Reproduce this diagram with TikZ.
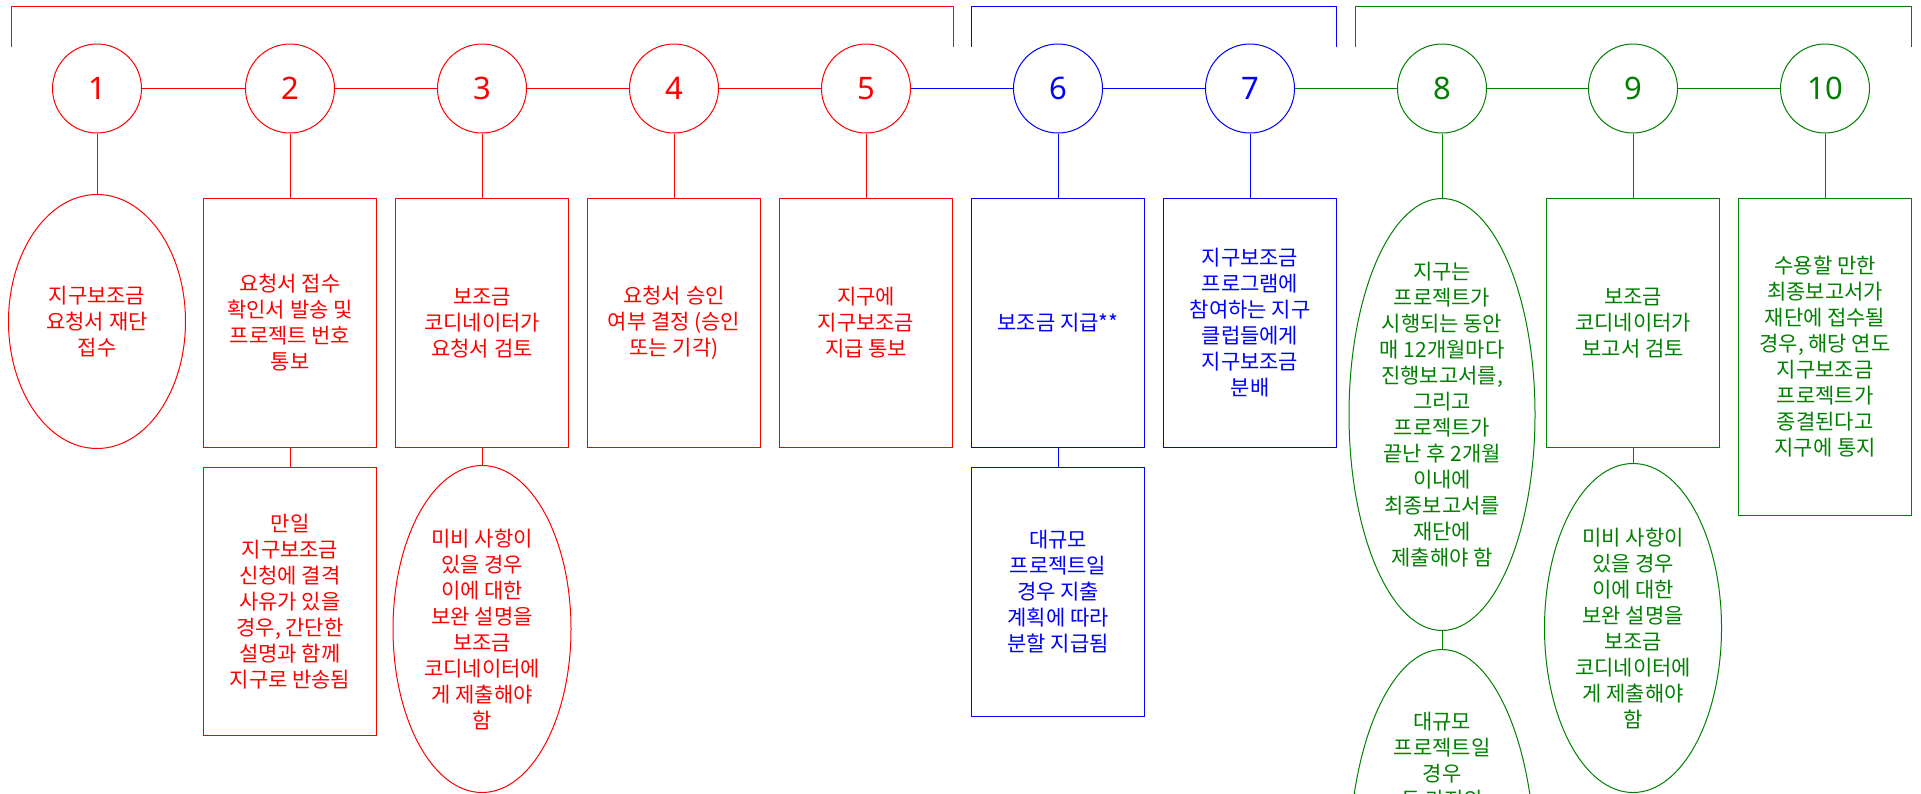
\documentclass[tikz,border=0pt]{standalone}
\usepackage{fontspec}
\setmainfont{Noto Sans CJK KR}
\newfontfamily\numfont{Noto Sans}
\usepackage{tikz}
\usetikzlibrary{shapes.geometric, positioning}

\definecolor{grantred}{RGB}{255,0,0}
\definecolor{grantblue}{RGB}{0,0,255}
\definecolor{grantgreen}{RGB}{0,128,0}

\begin{document}
\begin{tikzpicture}[x=0.5pt, y=-0.5pt, line width=0.5pt]
			\tikzstyle{stagenum}=[draw, circle, minimum size=44.5pt, inner sep=0pt, font=\numfont\fontsize{15.5}{18}\selectfont]
			\tikzstyle{taskbox}=[draw, rectangle, minimum width=86.5pt, minimum height=124.5pt, inner sep=0pt, align=center, font=\fontsize{10.5}{13}\selectfont, below]
			\tikzstyle{taskoval}=[draw, ellipse, inner sep=-4pt, align=center, font=\fontsize{10.5}{13}\selectfont, below]
			
			\useasboundingbox (0,0) rectangle (1921,793);
			\clip (0,0) rectangle (1921,793);
			
			%% phase brackets
			\draw [grantred] (11,47) |- (953,6) -- (953,47);
			\draw [grantblue] (971,47) |- (1336,6) -- (1336,47);
			\draw [grantgreen] (1355,47) |- (1911,6) -- (1911,47);
			
			\node (s1) at (97,88.5) [stagenum, grantred] {1};
			\node (s2) at (290,88.5) [stagenum, grantred] {2};
			\node (s3) at (482,88.5) [stagenum, grantred] {3};
			\node (s4) at (674,88.5) [stagenum, grantred] {4};
			\node (s5) at (866,88.5) [stagenum, grantred] {5};
			\node (s6) at (1058,88.5) [stagenum, grantblue] {6};
			\node (s7) at (1250,88.5) [stagenum, grantblue] {7};
			\node (s8) at (1442,88.5) [stagenum, grantgreen] {8};
			\node (s9) at (1633,88.5) [stagenum, grantgreen] {9};
			\node (s10) at (1825,88.5) [stagenum, grantgreen] {10};
			
			\draw [grantred] (s1) -- (s2);
			\draw [grantred] (s2) -- (s3);
			\draw [grantred] (s3) -- (s4);
			\draw [grantred] (s4) -- (s5);
			\draw [grantblue] (s5) -- (s6);
			\draw [grantblue] (s6) -- (s7);
			\draw [grantgreen] (s7) -- (s8);
			\draw [grantgreen] (s8) -- (s9);
			\draw [grantgreen] (s9) -- (s10);
			
			%% first row
			\node (a1) at (97,194) [taskoval, grantred, minimum width=88.5pt, minimum height=127pt] {지구보조금\\요청서 재단\\접수};
			\node (a2) at (290,198) [taskbox, grantred] {요청서 접수\\확인서 발송 및\\프로젝트 번호\\통보};
			\node (a3) at (482,198) [taskbox, grantred] {보조금\\코디네이터가\\요청서 검토};
			\node (a4) at (674,198) [taskbox, grantred] {요청서 승인\\여부 결정 (승인\\또는 기각)};
			\node (a5) at (866,198) [taskbox, grantred] {지구에\\지구보조금\\지급 통보};
			\node (a6) at (1058,198) [taskbox, grantblue] {보조금 지급**};
			\node (a7) at (1250,198) [taskbox, grantblue] {지구보조금\\프로그램에\\참여하는 지구\\클럽들에게\\지구보조금\\분배};
			\node (a8) at (1442,198) [taskoval, grantgreen, minimum width=93pt, minimum height=216pt] {지구는\\프로젝트가\\시행되는 동안\\매 12개월마다\\진행보고서를,\\그리고\\프로젝트가\\끝난 후 2개월\\이내에\\최종보고서를\\재단에\\제출해야 함};
			\node (a9) at (1633,198) [taskbox, grantgreen] {보조금\\코디네이터가\\보고서 검토};
			\node (a10) at (1825,198) [taskbox, grantgreen, minimum height=158.5pt] {수용할 만한\\최종보고서가\\재단에 접수될\\경우, 해당 연도\\지구보조금\\프로젝트가\\종결된다고\\지구에 통지};
			
			\draw [grantred] (s1) -- (a1);
			\draw [grantred] (s2) -- (a2);
			\draw [grantred] (s3) -- (a3);
			\draw [grantred] (s4) -- (a4);
			\draw [grantred] (s5) -- (a5);
			\draw [grantblue] (s6) -- (a6);
			\draw [grantblue] (s7) -- (a7);
			\draw [grantgreen] (s8) -- (a8);
			\draw [grantgreen] (s9) -- (a9);
			\draw [grantgreen] (s10) -- (a10);
			
			%% second row
			\node (b2) at (290,467) [taskbox, grantred, minimum height=134pt] {만일\\지구보조금\\신청에 결격\\사유가 있을\\경우, 간단한\\설명과 함께\\지구로 반송됨};
			\node (b3) at (482,465) [taskoval, grantred, minimum width=89pt, minimum height=163.5pt] {미비 사항이\\있을 경우\\이에 대한\\보완 설명을\\보조금\\코디네이터에\\게 제출해야\\함};
			\node (b6) at (1058,467) [taskbox, grantblue] {대규모\\프로젝트일\\경우 지출\\계획에 따라\\분할 지급됨};
			\node (b8) at (1442,649) [taskoval, grantgreen, minimum width=93pt, minimum height=216pt] {};
			\node (b8t) at (1442,712) [below, grantgreen, inner sep=0pt, align=center, font=\fontsize{10.5}{13}\selectfont] {대규모\\프로젝트일\\경우\\두 가지의};
			\node (b9) at (1633,463) [taskoval, grantgreen, minimum width=88.5pt, minimum height=164.5pt] {미비 사항이\\있을 경우\\이에 대한\\보완 설명을\\보조금\\코디네이터에\\게 제출해야\\함};
			
			\draw [grantred] (a2) -- (b2);
			\draw [grantred] (a3) -- (b3);
			\draw [grantblue] (a6) -- (b6);
			\draw [grantgreen] (a8) -- (b8);
			\draw [grantgreen] (a9) -- (b9);
\end{tikzpicture}
\end{document}
